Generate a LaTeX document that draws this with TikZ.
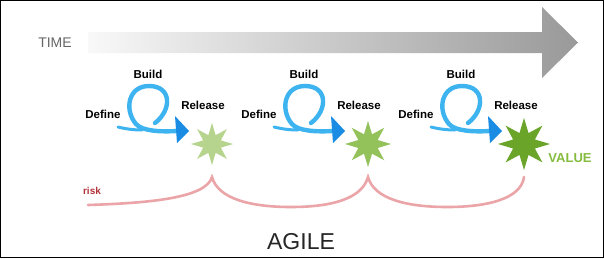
\documentclass[tikz,border=0pt]{standalone}
\usepackage{fontspec}
\setsansfont{Liberation Sans}
\usetikzlibrary{shapes.geometric}
\definecolor{loopblue}{HTML}{3DB3F0}
\definecolor{headblue}{HTML}{1B8CE3}
\definecolor{riskpink}{HTML}{EBA5A8}
\definecolor{riskred}{HTML}{B0343A}
\definecolor{valuegreen}{HTML}{86BC3E}
\begin{document}
\begin{tikzpicture}[x=1pt,y=-1pt,font=\sffamily,
    steplabel/.style={font=\sffamily\bfseries\fontsize{11.5}{13}\selectfont, inner sep=1pt},
    burst/.style={shape=star, star points=8, star point ratio=2.2, inner sep=0pt, draw=none},
    loopline/.style={loopblue, line width=4.4pt, line cap=round},
    riskline/.style={riskpink, line width=2.6pt, line cap=round}]
  \useasboundingbox (0,0) rectangle (604,258);
  \fill[white] (0,0) rectangle (604,258);
  % time arrow
  \shade[left color=gray!5, right color=gray!80] (88,32) -- (542,32) -- (542,7)
    -- (578,42.5) -- (542,78) -- (542,53) -- (88,53) -- cycle;
  \node[text=black!60, font=\sffamily\fontsize{14}{16}\selectfont] (time) at (55,43) {TIME};
  % build loops
  \foreach \dx/\n in {0/1, 156/2, 313/3} {
    \begin{scope}[xshift=\dx]
      \draw[loopline, line width=3pt] (118,127) .. controls (126,129) and (134,130) .. (142,130);
      \draw[loopline] (155,123) .. controls (172,110) and (172,86) .. (149,86)
        .. controls (128,86) and (124,110) .. (136,124)
        .. controls (142,131) and (160,132) .. (177,131);
      \fill[headblue] (175,116) -- (189,131) -- (177,143) -- cycle;
      \node[steplabel] (build\n) at (148,74) {Build};
      \node[steplabel] (define\n) at (103,114) {Define};
      \node[steplabel] (release\n) at (203,105) {Release};
    \end{scope}
  }
  % releases
  \node[burst, fill={rgb,255:red,183;green,212;blue,142}, minimum size=42pt] (s1) at (212,144) {};
  \node[burst, fill={rgb,255:red,147;green,194;blue,90}, minimum size=46pt] (s2) at (368,144) {};
  \node[burst, fill={rgb,255:red,106;green,165;blue,42}, minimum size=52pt] (s3) at (524,144) {};
  \node[text=valuegreen, font=\sffamily\bfseries\fontsize{13}{15}\selectfont] (value) at (570,158) {VALUE};
  % risk
  \node[text=riskred, font=\sffamily\bfseries\fontsize{10}{12}\selectfont] (risk) at (92,191) {risk};
  \coordinate (r0) at (88,205);
  \path (s1) ++(0,33) coordinate (k1);
  \path (s2) ++(0,33) coordinate (k2);
  \path (s3) ++(0,33) coordinate (k3);
  \coordinate (v1) at (291,207);
  \coordinate (v2) at (447,207);
  \draw[riskline] (r0) .. controls +(62,-2) and +(-6,21) .. (k1)
    .. controls +(6,22) and +(-40,0) .. (v1)
    .. controls +(40,0) and +(-6,22) .. (k2)
    .. controls +(6,22) and +(-40,0) .. (v2)
    .. controls +(40,0) and +(-3,22) .. (k3);
  \node[text=black!85, font=\sffamily\fontsize{23}{26}\selectfont] (agile) at (301,242) {AGILE};
  % frame
  \draw[black, line width=1.3pt] (0.65,0.65) rectangle (603.35,257.35);
\end{tikzpicture}
\end{document}
